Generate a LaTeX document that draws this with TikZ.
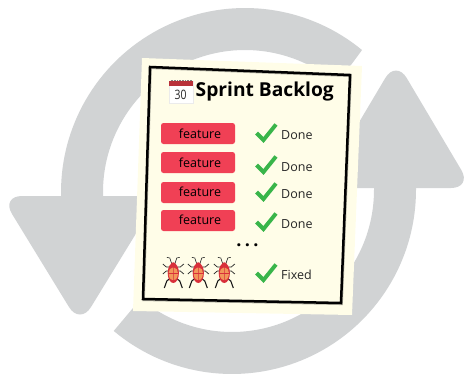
\documentclass[tikz,border=0pt]{standalone}
\usepackage{fontspec}
\setmainfont{Open Sans}
\definecolor{ringgrey}{HTML}{D1D3D4}
\definecolor{paperc}{HTML}{FFFDE8}
\definecolor{featc}{HTML}{F04055}
\definecolor{checkc}{HTML}{39B54A}
\definecolor{bugred}{HTML}{D8303A}
\definecolor{bugor}{HTML}{F2975A}
\definecolor{calred}{HTML}{B8323A}
\tikzset{
  ring/.style={fill=ringgrey,draw=none},
  head/.style={fill=ringgrey,draw=none,rounded corners=21pt},
  feat/.style={fill=featc,draw=none,rounded corners=2.5pt,minimum width=74pt,minimum height=21pt,inner sep=0pt,text=black,font=\fontsize{12.5}{14}\selectfont},
  stat/.style={anchor=west,inner sep=0pt,text=black!85,font=\fontsize{12.5}{14}\selectfont},
  checkm/.style={draw=checkc,line width=3.9pt,miter limit=10},
  bug/.pic={
    \draw[line width=.6pt,black!85] (-1.5,-8) -- (-3.5,-14) -- (-6.5,-14.7) (1.5,-8) -- (3.5,-14) -- (6.5,-14.7);
    \draw[line width=.7pt,black!85] (-4,-5) -- (-7,-5) -- (-10.5,-8) (4,-5) -- (7,-5) -- (10.5,-8);
    \draw[line width=.7pt,black!85] (-4,-1) -- (-7,-1) -- (-10.5,2) (4,-1) -- (7,-1) -- (10.5,2);
    \draw[line width=1.1pt,black!90] (-4,7) -- (-6.5,9) -- (-9,16) (4,7) -- (6.5,9) -- (9,16);
    \fill[bugred] (0,-7.5) ellipse (2.4 and 2.2);
    \fill[bugred] (0,1) ellipse (5.6 and 10);
    \fill[bugor] (-.4,-4.5) -- (-.4,8) to[out=180,in=-90] (-4.6,1) to[out=90,in=180] cycle;
    \fill[bugor] (.4,-4.5) -- (.4,8) to[out=0,in=-90] (4.6,1) to[out=90,in=0] cycle;
    \draw[bugred,line width=.5pt] (-5,1) -- (5,1);
  }
}
\begin{document}
\begin{tikzpicture}[x=1pt,y=-1pt]
\useasboundingbox (0,0) rectangle (466,380);
% grey cycle
\fill[ring] (61,200) -- plot[domain=180:50.5,samples=70] ({245+184*cos(\x)},{192-184*sin(\x)})
  -- (351,65) -- plot[domain=52:180,samples=70] ({245+142*cos(\x)},{192-142*sin(\x)}) -- (103,200) -- cycle;
\fill[ring] (416,182) -- plot[domain=0:-130,samples=70] ({232+184*cos(\x)},{190-184*sin(\x)})
  -- plot[domain=-130:0,samples=70] ({232+142*cos(\x)},{190-142*sin(\x)}) -- (374,182) -- cycle;
\fill[head] (80,196) -- (159,196) -- (80,325) -- (1,196) -- cycle;
\fill[head] (396,188) -- (320,188) -- (396,60) -- (472,188) -- cycle;
% paper
\fill[paperc] (142,58) -- (362,66) -- (352,315) -- (133,311) -- cycle;
\draw[black!30!paperc,line width=2.5pt,line join=miter] (150.6,67.8) -- (350.6,75.8) -- (341.6,303.8) -- (143.6,299.8) -- cycle;
\draw[black,line width=2.5pt,line join=miter] (150,67) -- (350,75) -- (341,303) -- (143,299) -- cycle;
% calendar
\fill[white,draw=black!8,line width=.6pt] (169,81) rectangle (193,103);
\fill[calred] (169,81) rectangle (193,86);
\draw[black!50,line width=1pt,dash pattern=on .7pt off .9pt] (170.5,80) -- (191.5,80);
\node[inner sep=0pt,text=black!85,xscale=.8,font=\fontsize{13}{14}\selectfont] (cal) at (180.5,94.5) {30};
\node[anchor=west,inner sep=0pt,font=\bfseries\fontsize{19.2}{22}\selectfont,text=black] (title) at (195.5,92) {Sprint Backlog};
% features
\node[feat] (f1) at (198,133.5) {}; \node[inner sep=0pt,font=\fontsize{12.5}{14}\selectfont] (t1) at (200,133.7) {feature};
\node[feat] (f2) at (198,162.5) {}; \node[inner sep=0pt,font=\fontsize{12.5}{14}\selectfont] (t2) at (200,162.7) {feature};
\node[feat] (f3) at (198,192.5) {}; \node[inner sep=0pt,font=\fontsize{12.5}{14}\selectfont] (t3) at (200,191.7) {feature};
\node[feat] (f4) at (198,220.5) {}; \node[inner sep=0pt,font=\fontsize{12.5}{14}\selectfont] (t4) at (200,219.7) {feature};
% checks
\foreach \d in {0,32,59,89,140}{
  \draw[checkm] (256.5,{133+\d}) -- (263.5,{140+\d}) -- (276,{124.5+\d});
}
\node[stat] (d1) at (281,134.8) {Done};
\node[stat] (d2) at (281,166.8) {Done};
\node[stat] (d3) at (281,193.8) {Done};
\node[stat] (d4) at (281,223.8) {Done};
\node[stat] (d5) at (281,274.8) {Fixed};
\node[inner sep=0pt,font=\bfseries\fontsize{18}{20}\selectfont] (dots) at (247.5,245) {.\kern3.4pt.\kern3.4pt.};
\pic at (173.3,272) {bug};
\pic at (198.3,272) {bug};
\pic at (224.3,272) {bug};
\end{tikzpicture}
\end{document}
